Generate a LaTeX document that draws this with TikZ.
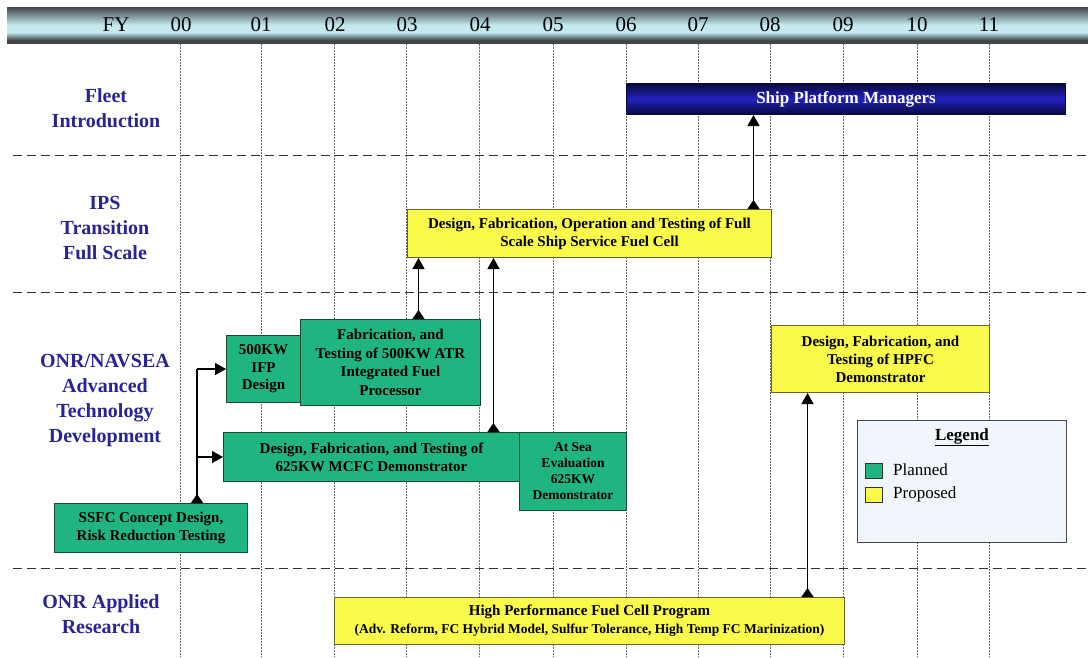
\documentclass[tikz,border=0pt]{standalone}
\usepackage{fontspec}
\setmainfont{Liberation Serif}
\usetikzlibrary{arrows.meta}
\definecolor{rowblue}{RGB}{40,36,150}
\definecolor{gfill}{RGB}{32,180,128}
\definecolor{gline}{RGB}{25,75,50}
\definecolor{yfill}{RGB}{250,250,75}
\definecolor{yline}{RGB}{105,100,45}
\definecolor{lgfill}{RGB}{240,246,252}
\definecolor{lgline}{RGB}{70,70,75}
\definecolor{hdrdark}{RGB}{62,70,72}
\definecolor{hdrmid}{RGB}{120,140,145}
\definecolor{hdrlight}{RGB}{196,234,240}
\definecolor{navydark}{RGB}{8,8,60}
\definecolor{navymid}{RGB}{34,34,190}
\definecolor{gridgray}{RGB}{105,105,105}
\pgfdeclareverticalshading{hdrshade}{100bp}{color(0bp)=(hdrdark); color(25bp)=(hdrdark); color(29bp)=(hdrdark); color(40bp)=(hdrlight); color(50bp)=(hdrlight); color(64bp)=(hdrmid); color(75bp)=(hdrdark); color(100bp)=(hdrdark)}
\pgfdeclareverticalshading{navyshade}{100bp}{color(0bp)=(navydark); color(25bp)=(navydark); color(50bp)=(navymid); color(75bp)=(navydark); color(100bp)=(navydark)}
\tikzset{
  boxbase/.style={line width=1pt, align=center, inner sep=0pt, anchor=north west,
    font=\bfseries\fontsize{15}{18}\selectfont},
  gbox/.style={boxbase, draw=gline, fill=gfill},
  ybox/.style={boxbase, draw=yline, fill=yfill},
  rowlab/.style={text=rowblue, font=\bfseries\fontsize{20}{25}\selectfont, align=center},
  yearlab/.style={font=\fontsize{21}{21}\selectfont, inner sep=0pt},
  gridline/.style={gridgray, line width=0.6pt, dash pattern=on 1.5pt off 1.5pt},
  rowsep/.style={black!80, line width=1pt, dash pattern=on 9pt off 5pt},
  conn/.style={line width=1.3pt, {Triangle[reversed,width=12pt,length=9pt]}-{Triangle[width=12pt,length=11pt]}},
  arr/.style={line width=1.3pt, -{Triangle[width=12pt,length=11pt]}},
  plain/.style={line width=1.3pt},
  swatch/.style={draw=black!80, line width=0.8pt, minimum width=17pt, minimum height=15pt, inner sep=0pt, anchor=north west},
  legtext/.style={font=\fontsize{17}{17}\selectfont, anchor=west, inner sep=0pt}
}
\begin{document}
\begin{tikzpicture}[x=1pt,y=-1pt]
\useasboundingbox (0,0) rectangle (1088,657);
% header bar
\shade[shading=hdrshade] (7,7) rectangle (1088,43);
\draw[hdrdark, line width=1.5pt] (7,42.5) -- (1088,42.5);
\node[yearlab] (fy) at (116,25) {FY};
\foreach \yr/\xx in {00/181,01/261,02/335,03/407,04/480,05/553,06/626,07/698,08/770,09/843,10/917,11/989}{
  \node[yearlab] (y\yr) at (\xx,25) {\yr};
}
% vertical grid lines
\foreach \xx in {180,261,334,406.5,479,553,626,698,770.5,843.5,917,989}{
  \draw[gridline] (\xx,44) -- (\xx,657);
}
% row separators
\foreach \yy in {155,292,568}{
  \draw[rowsep] (13,\yy) -- (1088,\yy);
}
% row labels
\node[rowlab] (r1) at (106,108) {Fleet\\Introduction};
\node[rowlab] (r2) at (105,228) {IPS\\Transition\\Full Scale};
\node[rowlab] (r3) at (105,400) {ONR/NAVSEA\\Advanced\\Technology\\Development};
\node[rowlab] (r4) at (101,614.5) {ONR Applied\\Research};
% boxes
\node[boxbase, shading=navyshade, draw=navydark, text=white, minimum width=439pt, minimum height=31pt,
  font=\bfseries\fontsize{17}{20}\selectfont] (ship) at (626,83) {Ship Platform Managers};
\node[ybox, minimum width=364pt, minimum height=48pt] (ips) at (407,209)
  {Design, Fabrication, Operation and Testing of Full\\Scale Ship Service Fuel Cell};
\node[gbox, minimum width=74pt, minimum height=67pt, font=\bfseries\fontsize{15}{17.5}\selectfont] (ifp) at (226,335)
  {500KW\\IFP\\Design};
\node[gbox, minimum width=180pt, minimum height=86pt, font=\bfseries\fontsize{15}{18.5}\selectfont] (fab) at (300,319)
  {Fabrication, and\\Testing of 500KW ATR\\Integrated Fuel\\Processor};
\node[gbox, minimum width=296pt, minimum height=49pt] (mcfc) at (223,432)
  {Design, Fabrication, and Testing of\\625KW MCFC Demonstrator};
\node[gbox, minimum width=107pt, minimum height=78pt, font=\bfseries\fontsize{13.5}{16}\selectfont] (atsea) at (519,432)
  {At Sea\\Evaluation\\625KW\\Demonstrator};
\node[gbox, minimum width=193pt, minimum height=49pt] (ssfc) at (54,503)
  {SSFC Concept Design,\\Risk Reduction Testing};
\node[ybox, minimum width=218pt, minimum height=67pt] (hpfc) at (771,325)
  {Design, Fabrication, and\\Testing of HPFC\\Demonstrator};
\node[ybox, minimum width=510pt, minimum height=47pt] (hpfr) at (334,597)
  {High Performance Fuel Cell Program\\{\fontsize{13.5}{18}\selectfont(Adv. Reform, FC Hybrid Model, Sulfur Tolerance, High Temp FC Marinization)}};
% legend
\node[draw=lgline, fill=lgfill, line width=1.2pt, minimum width=209pt, minimum height=122pt, anchor=north west, inner sep=0pt] (legend) at (857,420) {};
\node[font=\bfseries\fontsize{17}{17}\selectfont, inner sep=0pt] (legtitle) at (962,437) {\underline{Legend}};
\node[swatch, fill=gfill] (sw1) at (865,463) {};
\node[swatch, fill=yfill] (sw2) at (865,487) {};
\node[legtext] (lt1) at (893,470) {Planned};
\node[legtext] (lt2) at (893,494.5) {Proposed};
% connectors
\coordinate (jx) at (197,458);
\draw[plain, {Triangle[reversed,width=12pt,length=9pt]}-] (jx |- ssfc.north) -- (jx |- ifp.west);
\draw[arr] (jx |- ifp.west) -- (ifp.west);
\draw[arr] (jx |- mcfc.west) -- (mcfc.west);
\draw[conn] ([xshift=28pt]fab.north) -- ([xshift=28pt]fab.north |- ips.south);
\draw[conn] ([xshift=122pt]mcfc.north) -- ([xshift=122pt]mcfc.north |- ips.south);
\draw[conn] ([xshift=164pt]ips.north) -- ([xshift=164pt]ips.north |- ship.south);
\draw[conn] ([xshift=218pt]hpfr.north) -- ([xshift=218pt]hpfr.north |- hpfc.south);
\end{tikzpicture}
\end{document}
